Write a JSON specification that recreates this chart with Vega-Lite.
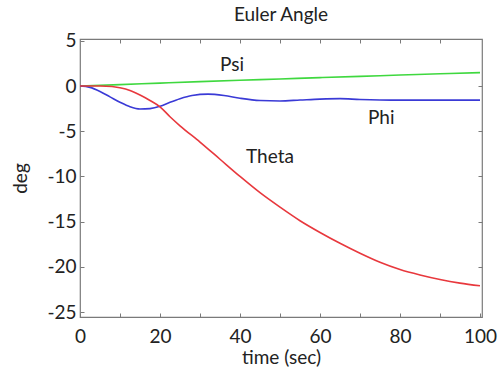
{
  "$schema": "https://vega.github.io/schema/vega-lite/v6.json",
  "width": 402,
  "height": 278,
  "autosize": {"type": "none"},
  "padding": {"left": 80, "top": 39, "right": 19, "bottom": 64},
  "background": "white",
  "title": {"text": "Euler Angle", "font": "Lato", "fontSize": 19, "fontWeight": "normal", "color": "#222", "offset": 7},
  "config": {
    "view": {"stroke": "#7a7a7a", "strokeWidth": 1.2},
    "axis": {"grid": false, "domain": false, "tickColor": "#7a7a7a", "tickSize": -4, "labelFont": "Lato", "labelFontSize": 19, "labelColor": "#222", "titleFont": "Lato", "titleFontSize": 19, "titleFontWeight": "normal", "titleColor": "#222"}
  },
  "datasets": {
    "lines": [
      {"t": 0, "v": 0, "s": "Psi"}, {"t": 10, "v": 0.15, "s": "Psi"}, {"t": 20, "v": 0.32, "s": "Psi"}, {"t": 30, "v": 0.48, "s": "Psi"}, {"t": 40, "v": 0.63, "s": "Psi"}, {"t": 50, "v": 0.78, "s": "Psi"}, {"t": 60, "v": 0.93, "s": "Psi"}, {"t": 70, "v": 1.07, "s": "Psi"}, {"t": 80, "v": 1.21, "s": "Psi"}, {"t": 90, "v": 1.35, "s": "Psi"}, {"t": 100, "v": 1.48, "s": "Psi"},
      {"t": 0, "v": 0, "s": "Phi"}, {"t": 2.5, "v": -0.15, "s": "Phi"}, {"t": 5, "v": -0.6, "s": "Phi"}, {"t": 7.5, "v": -1.2, "s": "Phi"}, {"t": 10, "v": -1.8, "s": "Phi"}, {"t": 12.5, "v": -2.3, "s": "Phi"}, {"t": 15, "v": -2.55, "s": "Phi"}, {"t": 17.5, "v": -2.5, "s": "Phi"}, {"t": 20, "v": -2.25, "s": "Phi"}, {"t": 22.5, "v": -1.8, "s": "Phi"}, {"t": 25, "v": -1.4, "s": "Phi"}, {"t": 28, "v": -1.05, "s": "Phi"}, {"t": 32, "v": -0.9, "s": "Phi"}, {"t": 36, "v": -1.05, "s": "Phi"}, {"t": 40, "v": -1.35, "s": "Phi"}, {"t": 45, "v": -1.6, "s": "Phi"}, {"t": 50, "v": -1.65, "s": "Phi"}, {"t": 55, "v": -1.55, "s": "Phi"}, {"t": 60, "v": -1.45, "s": "Phi"}, {"t": 65, "v": -1.4, "s": "Phi"}, {"t": 70, "v": -1.5, "s": "Phi"}, {"t": 75, "v": -1.55, "s": "Phi"}, {"t": 80, "v": -1.56, "s": "Phi"}, {"t": 90, "v": -1.56, "s": "Phi"}, {"t": 100, "v": -1.56, "s": "Phi"},
      {"t": 0, "v": 0, "s": "Theta"}, {"t": 5, "v": 0, "s": "Theta"}, {"t": 8, "v": -0.05, "s": "Theta"}, {"t": 10, "v": -0.2, "s": "Theta"}, {"t": 12.5, "v": -0.5, "s": "Theta"}, {"t": 15, "v": -1.0, "s": "Theta"}, {"t": 17.5, "v": -1.6, "s": "Theta"}, {"t": 20, "v": -2.3, "s": "Theta"}, {"t": 22.5, "v": -3.4, "s": "Theta"}, {"t": 25, "v": -4.4, "s": "Theta"}, {"t": 30, "v": -6.2, "s": "Theta"}, {"t": 35, "v": -8.1, "s": "Theta"}, {"t": 40, "v": -10.0, "s": "Theta"}, {"t": 45, "v": -11.8, "s": "Theta"}, {"t": 50, "v": -13.4, "s": "Theta"}, {"t": 55, "v": -14.9, "s": "Theta"}, {"t": 60, "v": -16.2, "s": "Theta"}, {"t": 65, "v": -17.4, "s": "Theta"}, {"t": 70, "v": -18.5, "s": "Theta"}, {"t": 75, "v": -19.5, "s": "Theta"}, {"t": 80, "v": -20.3, "s": "Theta"}, {"t": 85, "v": -20.9, "s": "Theta"}, {"t": 90, "v": -21.4, "s": "Theta"}, {"t": 95, "v": -21.8, "s": "Theta"}, {"t": 100, "v": -22.1, "s": "Theta"}
    ],
    "labels": [
      {"t": 38, "v": 2.3, "s": "Psi"},
      {"t": 75.3, "v": -3.5, "s": "Phi"},
      {"t": 47.5, "v": -7.85, "s": "Theta"}
    ]
  },
  "layer": [
    {
      "data": {"name": "lines"},
      "mark": {"type": "line", "strokeWidth": 1.6, "interpolate": "monotone"},
      "encoding": {
        "x": {"field": "t", "type": "quantitative", "scale": {"domain": [0, 100.5], "nice": false, "zero": false}, "axis": {"values": [0, 20, 40, 60, 80, 100], "title": "time (sec)", "titlePadding": 2, "labelPadding": 14, "labelFlush": false}},
        "y": {"field": "v", "type": "quantitative", "scale": {"domain": [-25.55, 5.2], "nice": false, "zero": false}, "axis": {"values": [5, 0, -5, -10, -15, -20, -25], "title": "deg", "titlePadding": 16, "labelPadding": 8, "labelExpr": "replace(datum.label, '\u2212', '-')"}},
        "color": {"field": "s", "type": "nominal", "scale": {"domain": ["Psi", "Phi", "Theta"], "range": ["#3fd83f", "#3a3ad6", "#e8383d"]}, "legend": null},
        "detail": {"field": "s"}
      }
    },
    {
      "data": {"name": "labels"},
      "mark": {"type": "text", "font": "Lato", "fontSize": 19, "color": "#222"},
      "encoding": {
        "x": {"field": "t", "type": "quantitative", "axis": null},
        "y": {"field": "v", "type": "quantitative", "axis": null},
        "text": {"field": "s"}
      }
    },
    {
      "data": {"values": [{"t": 0, "v": 0}]},
      "mark": {"type": "point", "opacity": 0},
      "encoding": {
        "x": {"field": "t", "type": "quantitative", "axis": {"orient": "top", "values": [10, 20, 30, 40, 50, 60, 70, 80, 90], "labels": false, "title": null}},
        "y": {"field": "v", "type": "quantitative", "axis": {"orient": "right", "values": [0, -5, -10, -15, -20], "labels": false, "title": null}}
      }
    },
    {
      "data": {"values": [{"t": 0, "v": 0}]},
      "mark": {"type": "point", "opacity": 0},
      "encoding": {
        "x": {"field": "t", "type": "quantitative", "axis": {"orient": "bottom", "values": [10, 30, 50, 70, 90], "labels": false, "title": null}},
        "y": {"field": "v", "type": "quantitative", "axis": null}
      }
    }
  ],
  "resolve": {"axis": {"x": "independent", "y": "independent"}}
}
